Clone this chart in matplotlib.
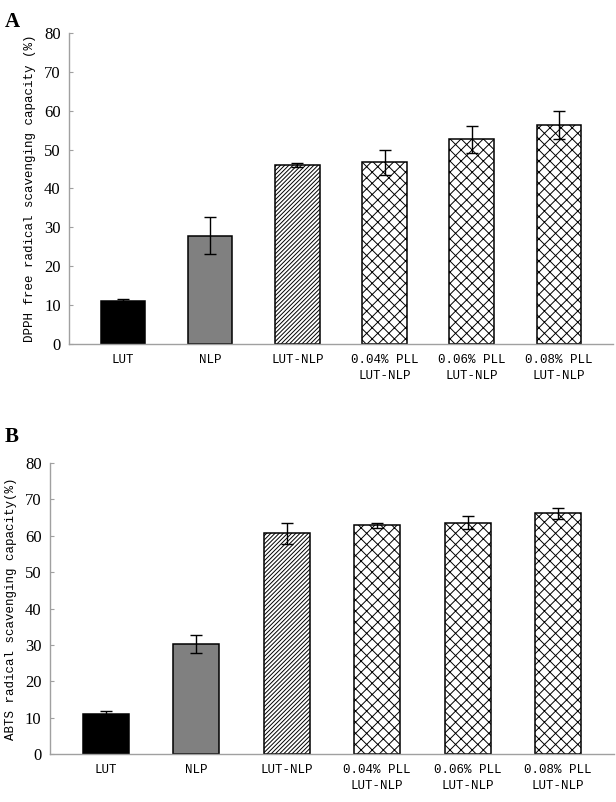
import matplotlib.pyplot as plt
import numpy as np

plt.rcParams['hatch.linewidth'] = 0.7

groups = ['LUT', 'NLP', 'LUT-NLP', '0.04% PLL\nLUT-NLP', '0.06% PLL\nLUT-NLP', '0.08% PLL\nLUT-NLP']
dpph = [11.1, 27.9, 46.0, 46.7, 52.6, 56.3]
dpph_err = [0.6, 4.7, 0.6, 3.3, 3.5, 3.5]
abts = [11.0, 30.2, 60.6, 62.9, 63.5, 66.1]
abts_err = [1.0, 2.4, 2.9, 0.7, 1.8, 1.6]

colors = ['black', '#808080', 'white', 'white', 'white', 'white']
hatches = [None, None, '////////', 'xxx', 'xxx', 'xxx']

fig = plt.figure(figsize=(6.16, 8.02), dpi=100)
axA = fig.add_axes([0.112, 0.571, 0.883, 0.388])
axB = fig.add_axes([0.081, 0.0595, 0.916, 0.3635])

labfont = dict(family='Liberation Mono', size=9)


def draw(ax, vals, errs, ylabel):
    x = np.arange(len(groups))
    for i in range(len(groups)):
        ax.bar(x[i], vals[i], width=0.51, color=colors[i], edgecolor='black',
               linewidth=1.1, hatch=hatches[i], zorder=2)
    ax.errorbar(x, vals, yerr=errs, fmt='none', ecolor='black', elinewidth=1,
                capsize=4, capthick=1, zorder=3)
    ax.set_xlim(-0.62, 5.62)
    ax.set_ylim(0, 80)
    ax.set_yticks(range(0, 81, 10))
    ax.set_xticks(x)
    ax.set_xticklabels(groups, fontdict=labfont, linespacing=1.45)
    for lab in ax.get_yticklabels():
        lab.set_family('Liberation Serif')
        lab.set_fontsize(12)
    ax.tick_params(axis='y', direction='in', length=3, color='#a0a0a0', pad=6)
    ax.tick_params(axis='x', length=0, pad=7)
    for s in ['top', 'right']:
        ax.spines[s].set_visible(False)
    for s in ['left', 'bottom']:
        ax.spines[s].set_color('#a0a0a0')
        ax.spines[s].set_linewidth(1)
    ax.set_ylabel(ylabel, fontdict=labfont, labelpad=6)


draw(axA, dpph, dpph_err, 'DPPH free radical scavenging capacity (%)')
draw(axB, abts, abts_err, 'ABTS radical scavenging capacity(%)')

fig.text(0.008, 0.985, 'A', family='Liberation Serif', weight='bold', fontsize=15, va='top')
fig.text(0.008, 0.468, 'B', family='Liberation Serif', weight='bold', fontsize=15, va='top')

fig.savefig('out.png', dpi=100)
